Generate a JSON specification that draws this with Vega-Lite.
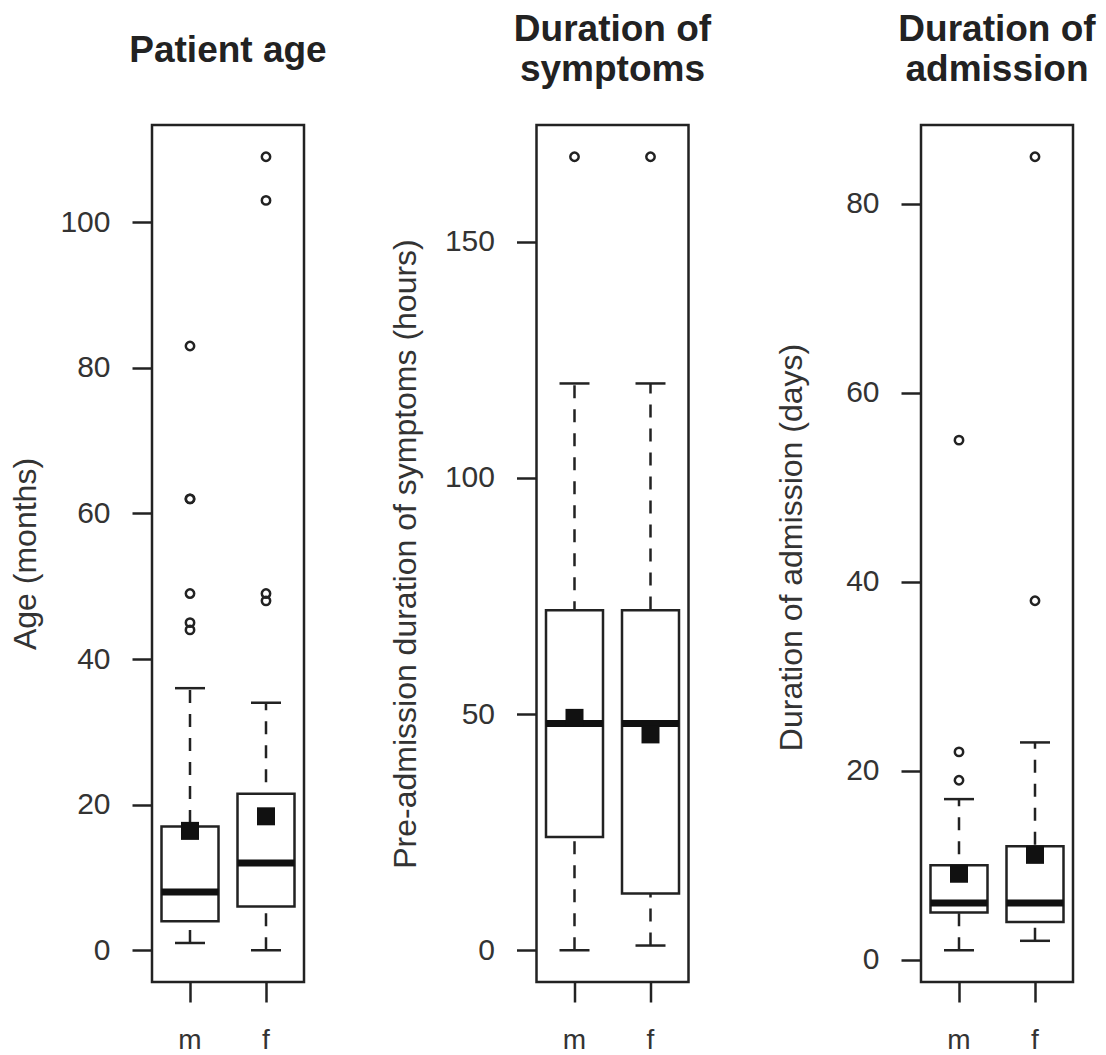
{
  "$schema": "https://vega.github.io/schema/vega-lite/v6.json",
  "background": "white",
  "padding": {"left": 7, "top": 9, "right": 0, "bottom": 0},
  "datasets": {
    "boxes": [
      {"panel": "age", "sex": "m", "lower": 1, "q1": 4, "median": 8, "q3": 17, "upper": 36, "mean": 16.4},
      {"panel": "age", "sex": "f", "lower": 0, "q1": 6, "median": 12, "q3": 21.5, "upper": 34, "mean": 18.4},
      {"panel": "sym", "sex": "m", "lower": 0, "q1": 24, "median": 48, "q3": 72, "upper": 120, "mean": 49.2},
      {"panel": "sym", "sex": "f", "lower": 1, "q1": 12, "median": 48, "q3": 72, "upper": 120, "mean": 45.7},
      {"panel": "adm", "sex": "m", "lower": 1, "q1": 5, "median": 6, "q3": 10, "upper": 17, "mean": 9.1},
      {"panel": "adm", "sex": "f", "lower": 2, "q1": 4, "median": 6, "q3": 12, "upper": 23, "mean": 11.1}
    ],
    "outliers": [
      {"panel": "age", "sex": "m", "value": 44},
      {"panel": "age", "sex": "m", "value": 45},
      {"panel": "age", "sex": "m", "value": 49},
      {"panel": "age", "sex": "m", "value": 62},
      {"panel": "age", "sex": "m", "value": 62},
      {"panel": "age", "sex": "m", "value": 83},
      {"panel": "age", "sex": "f", "value": 48},
      {"panel": "age", "sex": "f", "value": 49},
      {"panel": "age", "sex": "f", "value": 103},
      {"panel": "age", "sex": "f", "value": 109},
      {"panel": "sym", "sex": "m", "value": 168},
      {"panel": "sym", "sex": "f", "value": 168},
      {"panel": "adm", "sex": "m", "value": 19},
      {"panel": "adm", "sex": "m", "value": 22},
      {"panel": "adm", "sex": "m", "value": 55},
      {"panel": "adm", "sex": "f", "value": 38},
      {"panel": "adm", "sex": "f", "value": 85}
    ]
  },
  "hconcat": [
    {
      "width": 152, "height": 857,
      "title": {"text": "Patient age", "offset": 55},
      "data": {"name": "boxes"},
      "transform": [{"filter": "datum.panel === 'age'"}],
      "encoding": {
        "x": {"field": "sex", "type": "nominal", "sort": ["m", "f"], "scale": {"type": "band", "paddingInner": 0, "paddingOuter": 0}, "axis": {"title": null}}
      },
      "layer": [
        {"mark": {"type": "rule", "strokeDash": [13, 11], "strokeWidth": 2.5, "color": "#222"},
         "encoding": {"y": {"field": "lower", "type": "quantitative", "scale": {"domain": [-4.36, 113.36], "nice": false, "zero": false}, "axis": {"title": "Age (months)", "values": [0, 20, 40, 60, 80, 100], "titleX": -127, "titleY": 428.5}}, "y2": {"field": "upper"}}},
        {"mark": {"type": "tick", "size": 30, "thickness": 2.5, "color": "#222", "opacity": 1}, "encoding": {"y": {"field": "lower", "type": "quantitative"}}},
        {"mark": {"type": "tick", "size": 30, "thickness": 2.5, "color": "#222", "opacity": 1}, "encoding": {"y": {"field": "upper", "type": "quantitative"}}},
        {"mark": {"type": "bar", "fill": "white", "stroke": "#222", "strokeWidth": 2.5, "width": {"band": 0.75}}, "encoding": {"y": {"field": "q1", "type": "quantitative"}, "y2": {"field": "q3"}}},
        {"mark": {"type": "tick", "size": 57, "thickness": 7, "color": "#111", "opacity": 1}, "encoding": {"y": {"field": "median", "type": "quantitative"}}},
        {"mark": {"type": "point", "shape": "square", "filled": true, "size": 324, "color": "#111", "opacity": 1}, "encoding": {"y": {"field": "mean", "type": "quantitative"}}},
        {"data": {"name": "outliers"}, "transform": [{"filter": "datum.panel === 'age'"}],
         "mark": {"type": "point", "shape": "circle", "filled": false, "size": 70, "strokeWidth": 2.5, "color": "#222", "opacity": 1},
         "encoding": {"x": {"field": "sex", "type": "nominal", "sort": ["m", "f"]}, "y": {"field": "value", "type": "quantitative"}}}
      ]
    },
    {
      "width": 152, "height": 857,
      "title": {"text": ["Duration of", "symptoms"], "offset": 36},
      "data": {"name": "boxes"},
      "transform": [{"filter": "datum.panel === 'sym'"}],
      "encoding": {
        "x": {"field": "sex", "type": "nominal", "sort": ["m", "f"], "scale": {"type": "band", "paddingInner": 0, "paddingOuter": 0}, "axis": {"title": null}}
      },
      "layer": [
        {"mark": {"type": "rule", "strokeDash": [13, 11], "strokeWidth": 2.5, "color": "#222"},
         "encoding": {"y": {"field": "lower", "type": "quantitative", "scale": {"domain": [-6.72, 174.72], "nice": false, "zero": false}, "axis": {"title": "Pre-admission duration of symptoms (hours)", "values": [0, 50, 100, 150], "titleX": -131, "titleY": 428.5}}, "y2": {"field": "upper"}}},
        {"mark": {"type": "tick", "size": 30, "thickness": 2.5, "color": "#222", "opacity": 1}, "encoding": {"y": {"field": "lower", "type": "quantitative"}}},
        {"mark": {"type": "tick", "size": 30, "thickness": 2.5, "color": "#222", "opacity": 1}, "encoding": {"y": {"field": "upper", "type": "quantitative"}}},
        {"mark": {"type": "bar", "fill": "white", "stroke": "#222", "strokeWidth": 2.5, "width": {"band": 0.75}}, "encoding": {"y": {"field": "q1", "type": "quantitative"}, "y2": {"field": "q3"}}},
        {"mark": {"type": "tick", "size": 57, "thickness": 7, "color": "#111", "opacity": 1}, "encoding": {"y": {"field": "median", "type": "quantitative"}}},
        {"mark": {"type": "point", "shape": "square", "filled": true, "size": 324, "color": "#111", "opacity": 1}, "encoding": {"y": {"field": "mean", "type": "quantitative"}}},
        {"data": {"name": "outliers"}, "transform": [{"filter": "datum.panel === 'sym'"}],
         "mark": {"type": "point", "shape": "circle", "filled": false, "size": 70, "strokeWidth": 2.5, "color": "#222", "opacity": 1},
         "encoding": {"x": {"field": "sex", "type": "nominal", "sort": ["m", "f"]}, "y": {"field": "value", "type": "quantitative"}}}
      ]
    },
    {
      "width": 152, "height": 857,
      "title": {"text": ["Duration of", "admission"], "offset": 36},
      "data": {"name": "boxes"},
      "transform": [{"filter": "datum.panel === 'adm'"}],
      "encoding": {
        "x": {"field": "sex", "type": "nominal", "sort": ["m", "f"], "scale": {"type": "band", "paddingInner": 0, "paddingOuter": 0}, "axis": {"title": null}}
      },
      "layer": [
        {"mark": {"type": "rule", "strokeDash": [13, 11], "strokeWidth": 2.5, "color": "#222"},
         "encoding": {"y": {"field": "lower", "type": "quantitative", "scale": {"domain": [-2.36, 88.36], "nice": false, "zero": false}, "axis": {"title": "Duration of admission (days)", "values": [0, 20, 40, 60, 80], "titleX": -130, "titleY": 422}}, "y2": {"field": "upper"}}},
        {"mark": {"type": "tick", "size": 30, "thickness": 2.5, "color": "#222", "opacity": 1}, "encoding": {"y": {"field": "lower", "type": "quantitative"}}},
        {"mark": {"type": "tick", "size": 30, "thickness": 2.5, "color": "#222", "opacity": 1}, "encoding": {"y": {"field": "upper", "type": "quantitative"}}},
        {"mark": {"type": "bar", "fill": "white", "stroke": "#222", "strokeWidth": 2.5, "width": {"band": 0.75}}, "encoding": {"y": {"field": "q1", "type": "quantitative"}, "y2": {"field": "q3"}}},
        {"mark": {"type": "tick", "size": 57, "thickness": 7, "color": "#111", "opacity": 1}, "encoding": {"y": {"field": "median", "type": "quantitative"}}},
        {"mark": {"type": "point", "shape": "square", "filled": true, "size": 324, "color": "#111", "opacity": 1}, "encoding": {"y": {"field": "mean", "type": "quantitative"}}},
        {"data": {"name": "outliers"}, "transform": [{"filter": "datum.panel === 'adm'"}],
         "mark": {"type": "point", "shape": "circle", "filled": false, "size": 70, "strokeWidth": 2.5, "color": "#222", "opacity": 1},
         "encoding": {"x": {"field": "sex", "type": "nominal", "sort": ["m", "f"]}, "y": {"field": "value", "type": "quantitative"}}}
      ]
    }
  ],
  "spacing": 232.5,
  "bounds": "flush",
  "config": {
    "font": "Liberation Sans",
    "view": {"stroke": "#222", "strokeWidth": 2.5},
    "title": {"fontSize": 37, "fontWeight": "bold", "color": "#222", "lineHeight": 40, "frame": "group", "anchor": "middle", "font": "Liberation Sans"},
    "axis": {"domain": false, "grid": false, "ticks": true, "tickSize": 20, "tickWidth": 2.5, "tickColor": "#222", "labelFontSize": 30, "labelColor": "#333", "labelPadding": 22, "labelFont": "Liberation Sans", "titleFont": "Liberation Sans", "titleFontSize": 32, "titleFontWeight": "normal", "titleColor": "#333", "labelFlush": false, "labelOverlap": false},
    "axisX": {"labelAngle": 0, "labelBaseline": "alphabetic", "labelPadding": 46, "labelFontSize": 28},
    "axisY": {"titleBaseline": "middle", "titleAngle": -90, "titleAlign": "center"}
  }
}
